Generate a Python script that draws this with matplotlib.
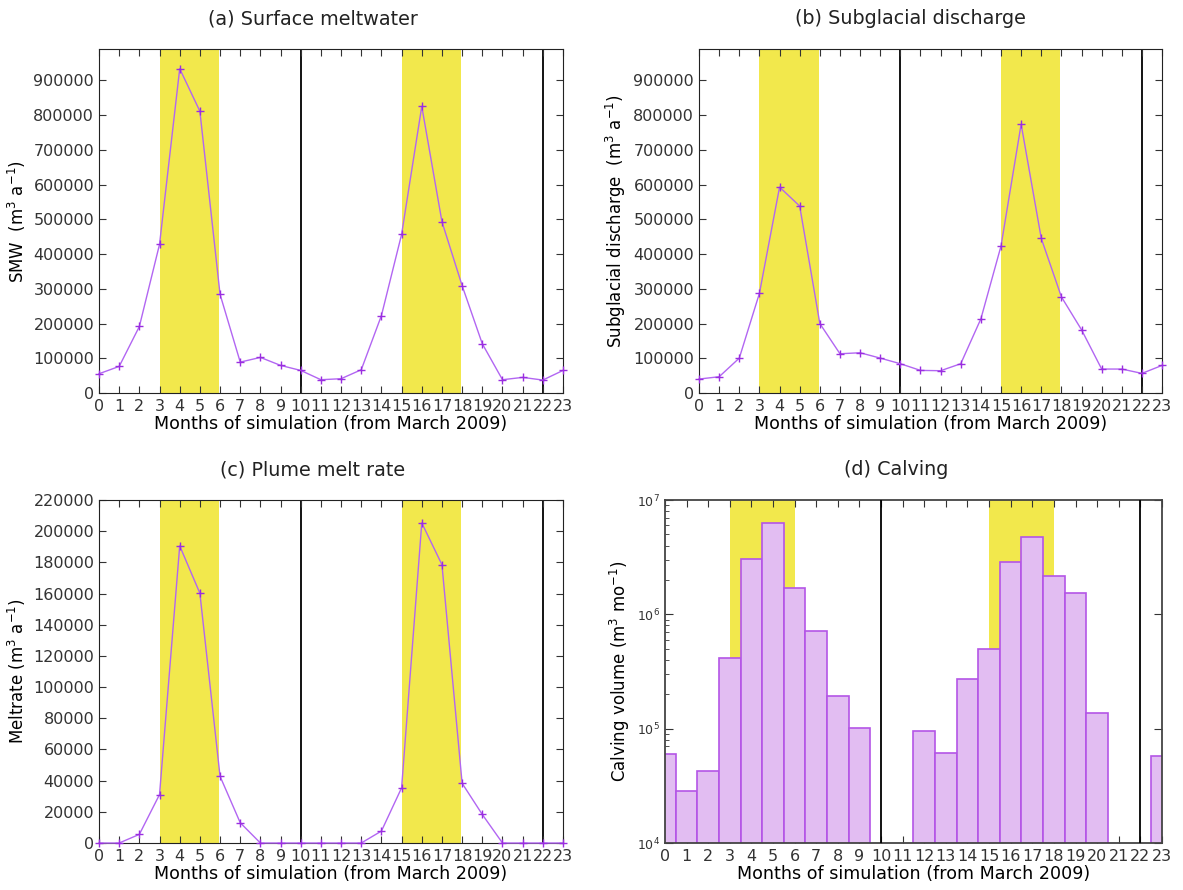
import numpy as np
import matplotlib
matplotlib.use("Agg")
import matplotlib.pyplot as plt

months = list(range(24))

smw = [55500, 76600, 191500, 428000, 933500, 811000, 284000, 89000, 102500, 79500,
       65000, 38300, 41200, 67000, 223000, 456700, 825000, 493000, 309000, 141700,
       38300, 45000, 37300, 65000]

discharge = [40200, 46900, 100500, 287000, 592700, 538000, 200000, 113000, 115900, 100500,
             84300, 65100, 64200, 84300, 213500, 423000, 773600, 445000, 276700, 182000,
             69000, 69000, 56500, 79500]

meltrate = [0, 0, 5540, 31100, 190600, 160200, 42800, 13000, 0, 0,
            0, 0, 0, 0, 7670, 35400, 205300, 178500, 38300, 18300,
            0, 0, 0, 0]

calving = [60000, 28300, 42300, 419000, 3030000, 6300000, 1700000, 717000, 194000, 102000,
           0, 0, 95900, 61200, 271000, 499000, 2890000, 4790000, 2170000, 1550000,
           136000, 0, 0, 57500]

summers = [(3, 6), (15, 18)]
year_marks = [10, 22]

yellow = '#f2e84c'
line_col = '#b266f2'
mark_col = '#9a2ee0'
bar_fill = '#e2bdf2'
bar_edge = '#b455e6'

plt.rcParams['font.family'] = 'DejaVu Sans'
plt.rcParams['axes.edgecolor'] = '#222222'
plt.rcParams['text.color'] = '#222222'
plt.rcParams['xtick.color'] = '#333333'
plt.rcParams['ytick.color'] = '#333333'

fig = plt.figure(figsize=(11.83, 8.90), dpi=100)

# positions in figure fractions (left, bottom, width, height)
pos = {
    'a': [0.0837, 0.5584, 0.3922, 0.3865],
    'b': [0.5909, 0.5584, 0.3914, 0.3865],
    'c': [0.0837, 0.0528, 0.3922, 0.3854],
    'd': [0.5621, 0.0528, 0.4201, 0.3854],
}
# title centres sit a little left of the axes centre in the original
title_x = {'a': 0.461, 'b': 0.457, 'c': 0.461, 'd': 0.466}
xlab = 'Months of simulation (from March 2009)'


def style_axes(ax):
    ax.tick_params(direction='in', top=True, right=True, length=5, labelsize=11.5)
    ax.set_xticks(months)
    ax.set_xticklabels([str(m) for m in months])
    ax.tick_params(axis='x', pad=4)


def add_title(ax, key, text):
    ax.set_title(text, fontsize=13.8, pad=18, x=title_x[key])


def line_panel(key, data, ymax, yticks, ylabel, title):
    ax = fig.add_axes(pos[key])
    for s0, s1 in summers:
        ax.axvspan(s0, s1 - 0.05, color=yellow, lw=0, zorder=0)
    for xm in year_marks:
        ax.axvline(xm, color='black', lw=1.3, zorder=1)
    ax.plot(months, data, color=line_col, lw=1, zorder=3, clip_on=False)
    ax.plot(months, data, ls='none', marker='+', ms=6, mew=1, color=mark_col,
            zorder=4, clip_on=False)
    ax.set_xlim(0, 23)
    ax.set_ylim(0, ymax)
    ax.set_yticks(yticks)
    ax.set_yticklabels([str(v) for v in yticks])
    style_axes(ax)
    ax.set_ylabel(ylabel, fontsize=12)
    add_title(ax, key, title)
    ax.set_xlabel(xlab, fontsize=12.6, labelpad=1)
    return ax


line_panel('a', smw, 990000, list(range(0, 900001, 100000)),
           'SMW  (m$^3$ a$^{-1}$)', '(a) Surface meltwater')
line_panel('b', discharge, 990000, list(range(0, 900001, 100000)),
           'Subglacial discharge  (m$^3$ a$^{-1}$)', '(b) Subglacial discharge')
line_panel('c', meltrate, 220000, list(range(0, 220001, 20000)),
           'Meltrate (m$^3$ a$^{-1}$)', '(c) Plume melt rate')

# (d) calving bars, log scale
ax = fig.add_axes(pos['d'])
for s0, s1 in summers:
    ax.axvspan(s0, s1, color=yellow, lw=0, zorder=0)
for xm in year_marks:
    ax.axvline(xm, color='black', lw=1.3, zorder=3)
xs = [m for m, v in zip(months, calving) if v > 0]
vs = [v for v in calving if v > 0]
ax.bar(xs, vs, width=1.0, bottom=1, color=bar_fill, edgecolor=bar_edge,
       lw=1.2, zorder=2)
ax.set_yscale('log')
ax.set_xlim(0, 23)
ax.set_ylim(1e4, 1e7)
style_axes(ax)
ax.tick_params(axis='y', which='major', labelsize=9, length=6)
ax.tick_params(axis='y', which='minor', direction='in', length=3, right=False)
ax.set_ylabel('Calving volume (m$^3$ mo$^{-1}$)', fontsize=12)
add_title(ax, 'd', '(d) Calving')
ax.set_xlabel(xlab, fontsize=12.6, labelpad=1)
for sp in ax.spines.values():
    sp.set_color('#444444')
    sp.set_linewidth(1.3)

fig.savefig('out.png', dpi=100)
